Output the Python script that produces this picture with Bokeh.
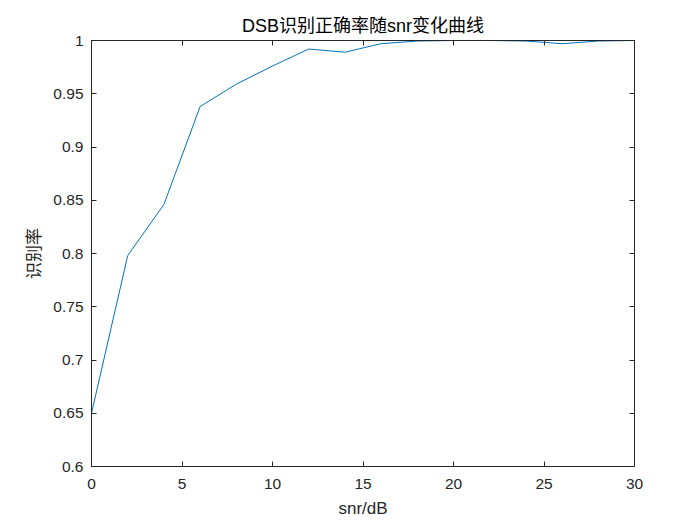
from bokeh.plotting import figure
from bokeh.models import LinearAxis, FixedTicker, Range1d, Title
from bokeh.embed import file_html
from bokeh.resources import INLINE

snr = [0, 2, 4, 6, 8, 10, 12, 14, 16, 18, 20, 22, 24, 26, 28, 30]
acc = [0.650, 0.798, 0.846, 0.938, 0.959, 0.976, 0.992, 0.989, 0.997, 0.9995,
       1.0, 1.0, 0.9995, 0.997, 0.9995, 1.0]

x_ticks = [0, 5, 10, 15, 20, 25, 30]
y_ticks = [0.6, 0.65, 0.7, 0.75, 0.8, 0.85, 0.9, 0.95, 1.0]
y_tick_labels = ["0.6", "0.65", "0.7", "0.75", "0.8", "0.85", "0.9", "0.95", "1"]

FONT = "Liberation Sans, Noto Sans CJK SC"
AX = "#262626"

p = figure(frame_width=543, frame_height=426, output_backend="svg",
           toolbar_location=None, x_range=Range1d(0, 30), y_range=Range1d(0.6, 1.0),
           x_axis_location=None, y_axis_location=None,
           min_border_left=91, min_border_right=60, min_border_top=40, min_border_bottom=55,
           background_fill_color="white", border_fill_color="white")
p.grid.visible = False
p.outline_line_color = AX
p.outline_line_width = 1

def style(ax):
    ax.axis_line_color = AX
    ax.major_tick_line_color = AX
    ax.major_tick_in = 5
    ax.major_tick_out = 0
    ax.minor_tick_in = 0
    ax.minor_tick_out = 0
    ax.major_label_text_font = FONT
    ax.major_label_text_font_size = "15.5px"
    ax.major_label_text_color = AX
    ax.axis_label_text_font = FONT
    ax.axis_label_text_font_size = "17px"
    ax.axis_label_text_font_style = "normal"
    ax.axis_label_text_color = AX

xb = LinearAxis(ticker=FixedTicker(ticks=x_ticks), axis_label="snr/dB")
style(xb)
xb.major_label_standoff = 12
xb.axis_label_standoff = 7
p.add_layout(xb, "below")

yl = LinearAxis(ticker=FixedTicker(ticks=y_ticks), axis_label="识别率")
style(yl)
yl.major_label_overrides = {t: s for t, s in zip(y_ticks, y_tick_labels)}
yl.major_label_standoff = 8
yl.axis_label_standoff = 6
p.add_layout(yl, "left")

xt = LinearAxis(ticker=FixedTicker(ticks=x_ticks))
style(xt)
xt.major_label_overrides = {t: "" for t in x_ticks}
xt.major_label_standoff = 0
p.add_layout(xt, "above")

yr = LinearAxis(ticker=FixedTicker(ticks=y_ticks))
style(yr)
yr.major_label_overrides = {t: "" for t in y_ticks}
yr.major_label_standoff = 0
p.add_layout(yr, "right")

p.line(snr, acc, line_color="#0072BD", line_width=1)

t = Title(text="DSB识别正确率随snr变化曲线", align="center", text_font=FONT,
          text_font_size="18px", text_font_style="normal", text_color="black",
          standoff=10)
p.add_layout(t, "above")

open("out.html", "w").write(file_html(p, INLINE))
